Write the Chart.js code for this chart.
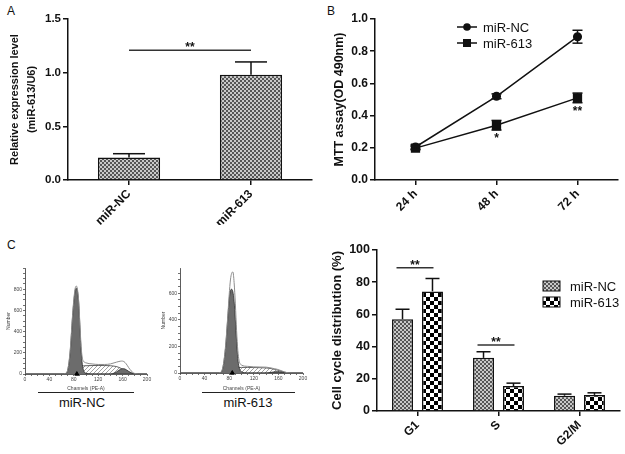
<!DOCTYPE html>
<html>
<head>
<meta charset="utf-8">
<script src="https://cdn.jsdelivr.net/npm/chart.js@4.4.0/dist/chart.umd.min.js"></script>
<style>
  html, body { margin: 0; padding: 0; background: #fff; }
  body { width: 625px; height: 454px; position: relative; overflow: hidden;
         font-family: "Liberation Sans", Arial, Helvetica, sans-serif; color: #111; }
  canvas { position: absolute; }
  .panel { position: absolute; font-size: 12px; }
  .under { position: absolute; border-top: 1.5px solid #222; height: 0; }
  .cap { position: absolute; font-size: 13px; text-align: center; width: 100px; }
</style>
</head>
<body>
<div class="panel" style="left:7px;top:4px">A</div>
<div class="panel" style="left:327px;top:4px">B</div>
<div class="panel" style="left:7px;top:238px">C</div>

<canvas id="chartA" width="314" height="225" style="left:0;top:0"></canvas>
<canvas id="chartB" width="311" height="225" style="left:314px;top:0"></canvas>
<canvas id="histNC" width="155" height="137" style="left:0;top:255px"></canvas>
<canvas id="hist613" width="155" height="137" style="left:155px;top:255px"></canvas>
<canvas id="chartD" width="311" height="229" style="left:314px;top:225px"></canvas>

<div class="under" style="left:38px;top:392px;width:96px"></div>
<div class="cap" style="left:32px;top:395px">miR-NC</div>
<div class="under" style="left:202px;top:392px;width:93px"></div>
<div class="cap" style="left:198px;top:395px">miR-613</div>

<script>
// ---- A: relative expression ----
const groupsA = ['miR-NC', 'miR-613'];
const exprA = [0.21, 0.98];
const exprErrA = [0.035, 0.12];
const sigA = 1.21;

// ---- B: MTT assay ----
const timesB = ['24 h', '48 h', '72 h'];
const mttNC = [0.205, 0.52, 0.89];
const mttNCErr = [0.012, 0.015, 0.04];
const mtt613 = [0.198, 0.34, 0.51];
const mtt613Err = [0.01, 0.03, 0.03];
const starsB = ['', '*', '**'];

// ---- C: flow histograms ----
const channels = [0, 60, 66, 70, 74, 78, 80, 82, 84, 86, 88, 90, 92, 94, 96, 100,
                  110, 120, 130, 140, 146, 150, 154, 158, 162, 166, 170, 174, 178, 182, 190, 200];
const ncTotal = [0, 0, 5, 40, 220, 560, 700, 800, 830, 800, 690, 470, 260, 150, 120, 105,
                 95, 90, 90, 95, 105, 112, 118, 122, 118, 95, 60, 30, 10, 2, 0, 0];
const ncG1 = [0, 0, 4, 35, 200, 540, 680, 780, 810, 780, 670, 440, 220, 90, 35, 6,
              0, 0, 0, 0, 0, 0, 0, 0, 0, 0, 0, 0, 0, 0, 0, 0];
const ncS = [0, 0, 0, 0, 5, 15, 25, 35, 45, 55, 62, 68, 72, 75, 77, 78,
             80, 80, 80, 78, 74, 70, 62, 52, 40, 28, 16, 8, 3, 0, 0, 0];
const ncG2 = [0, 0, 0, 0, 0, 0, 0, 0, 0, 0, 0, 0, 0, 0, 0, 0,
              0, 0, 0, 0, 8, 20, 35, 48, 50, 40, 25, 12, 4, 0, 0, 0];
const m613Total = [0, 0, 5, 50, 200, 450, 590, 700, 750, 760, 680, 520, 320, 170, 95, 60,
                   50, 46, 45, 44, 40, 36, 32, 28, 22, 15, 8, 3, 1, 0, 0, 0];
const m613G1 = [0, 0, 4, 45, 185, 430, 550, 620, 630, 610, 540, 400, 240, 110, 45, 10,
                0, 0, 0, 0, 0, 0, 0, 0, 0, 0, 0, 0, 0, 0, 0, 0];
const m613S = [0, 0, 0, 0, 3, 10, 15, 20, 26, 30, 34, 37, 39, 40, 41, 42,
               42, 41, 40, 38, 35, 31, 27, 22, 17, 11, 6, 2, 0, 0, 0, 0];
const m613G2 = [0, 0, 0, 0, 0, 0, 0, 0, 0, 0, 0, 0, 0, 0, 0, 0,
                0, 0, 0, 0, 3, 6, 9, 10, 9, 6, 3, 1, 0, 0, 0, 0];
const markerCh = [85, 85];

// ---- D: cell cycle ----
const phasesD = ['G1', 'S', 'G2/M'];
const cycleNC = [57, 33, 9.5];
const cycleNCErr = [6.2, 3.8, 1];
const cycle613 = [74.3, 15.5, 10];
const cycle613Err = [8, 1.8, 1.3];
const sigD = [89, 41, null];

const FONT = "'Liberation Sans', Arial, Helvetica, sans-serif";
const INK = '#111';
Chart.defaults.font.family = FONT;
Chart.defaults.color = INK;
Chart.defaults.animation = false;
Chart.defaults.plugins.legend.display = false;
Chart.defaults.plugins.tooltip.enabled = false;

function makePattern(w, h, paint) {
  const c = document.createElement('canvas');
  c.width = w; c.height = h;
  const g = c.getContext('2d');
  paint(g);
  return g.createPattern(c, 'repeat');
}
const fineFill = makePattern(4, 4, g => {
  g.fillStyle = '#c9c9c9'; g.fillRect(0, 0, 4, 4);
  g.fillStyle = '#565656'; g.fillRect(0, 0, 2, 2); g.fillRect(2, 2, 2, 2);
});
const checkFill = makePattern(8, 8, g => {
  g.fillStyle = '#fff'; g.fillRect(0, 0, 8, 8);
  g.fillStyle = '#000'; g.fillRect(0, 0, 4, 4); g.fillRect(4, 4, 4, 4);
});
const hatchFill = makePattern(4, 4, g => {
  g.fillStyle = '#fff'; g.fillRect(0, 0, 4, 4);
  g.strokeStyle = '#8a8a8a'; g.lineWidth = 0.8;
  g.beginPath();
  g.moveTo(0, 4); g.lineTo(4, 0);
  g.moveTo(-1, 1); g.lineTo(1, -1);
  g.moveTo(3, 5); g.lineTo(5, 3);
  g.stroke();
});

function yAxis(min, max, step, width, size, digits) {
  return {
    min, max,
    ticks: { stepSize: step, padding: 2, color: INK, font: { size, weight: 'bold' },
             callback: v => v.toFixed(digits) },
    grid: { drawOnChartArea: false, tickLength: 5, color: INK, lineWidth: 1.5 },
    border: { color: INK, width: 1.5 },
    afterFit: s => { s.width = width; }
  };
}
function xAxis(height, size) {
  return {
    offset: true,
    ticks: { minRotation: 45, maxRotation: 45, padding: 2, color: INK, font: { size, weight: 'bold' } },
    grid: { offset: false, drawOnChartArea: false, tickLength: 5, color: INK, lineWidth: 1.5 },
    border: { color: INK, width: 1.5 },
    afterFit: s => { s.height = height; }
  };
}

function line(ctx, x1, y1, x2, y2) {
  ctx.beginPath(); ctx.moveTo(x1, y1); ctx.lineTo(x2, y2); ctx.stroke();
}

// upper error bars on bars
function barErrors(chart, di, vals, errs, capHalf) {
  const ctx = chart.ctx, y = chart.scales.y;
  const meta = chart.getDatasetMeta(di);
  ctx.save();
  ctx.strokeStyle = INK; ctx.lineWidth = 1.5;
  vals.forEach((v, i) => {
    const x = meta.data[i].x;
    const top = y.getPixelForValue(v + errs[i]);
    line(ctx, x, y.getPixelForValue(v), x, top);
    line(ctx, x - capHalf, top, x + capHalf, top);
  });
  ctx.restore();
}

function sigMark(chart, x1, x2, yPix, text, size) {
  const ctx = chart.ctx;
  ctx.save();
  ctx.strokeStyle = '#333'; ctx.lineWidth = 1.5;
  line(ctx, x1, yPix, x2, yPix);
  ctx.fillStyle = INK;
  ctx.font = 'bold ' + size + 'px ' + FONT;
  ctx.textAlign = 'center'; ctx.textBaseline = 'alphabetic';
  ctx.fillText(text, (x1 + x2) / 2, yPix + 1);
  ctx.restore();
}

// ---- Chart A ----
new Chart(document.getElementById('chartA'), {
  type: 'bar',
  data: {
    labels: groupsA,
    datasets: [{ data: exprA, backgroundColor: fineFill, borderColor: INK, borderWidth: 1.5,
                 categoryPercentage: 1, barPercentage: 0.51 }]
  },
  options: {
    responsive: false,
    layout: { padding: { top: 19, right: 2 } },
    scales: {
      x: xAxis(45, 12),
      y: Object.assign(yAxis(0, 1.5, 0.5, 68, 11.5, 1), {
        title: { display: true, text: ['Relative expression level', '(miR-613/U6)'],
                 font: { size: 11, weight: 'bold', lineHeight: 1.6 }, padding: { top: 6 } }
      })
    }
  },
  plugins: [{
    id: 'extrasA',
    afterDatasetsDraw(chart) {
      barErrors(chart, 0, exprA, exprErrA, 16);
      const meta = chart.getDatasetMeta(0);
      sigMark(chart, meta.data[0].x, meta.data[1].x, chart.scales.y.getPixelForValue(sigA), '**', 12);
    }
  }]
});

// ---- Chart B ----
new Chart(document.getElementById('chartB'), {
  type: 'line',
  data: {
    labels: timesB,
    datasets: [
      { label: 'miR-NC', data: mttNC, borderColor: INK, borderWidth: 1.5, backgroundColor: INK,
        pointStyle: 'circle', pointRadius: 3.8, pointBackgroundColor: INK },
      { label: 'miR-613', data: mtt613, borderColor: INK, borderWidth: 1.5, backgroundColor: INK,
        pointStyle: 'rect', pointRadius: 5.5, pointBackgroundColor: INK }
    ]
  },
  options: {
    responsive: false,
    layout: { padding: { top: 19, right: 7 } },
    scales: {
      x: xAxis(45, 12),
      y: Object.assign(yAxis(0, 1.0, 0.2, 61, 12, 1), {
        title: { display: true, text: 'MTT assay(OD 490nm)', font: { size: 12.5, weight: 'bold' },
                 padding: { top: 18 } }
      })
    }
  },
  plugins: [{
    id: 'extrasB',
    afterDatasetsDraw(chart) {
      const ctx = chart.ctx, y = chart.scales.y;
      ctx.save();
      ctx.strokeStyle = INK; ctx.lineWidth = 1.5;
      [[mttNC, mttNCErr], [mtt613, mtt613Err]].forEach((pair, di) => {
        const meta = chart.getDatasetMeta(di);
        pair[0].forEach((v, i) => {
          const x = meta.data[i].x;
          const top = y.getPixelForValue(v + pair[1][i]);
          const bot = y.getPixelForValue(v - pair[1][i]);
          line(ctx, x, top, x, bot);
          line(ctx, x - 5, top, x + 5, top);
          line(ctx, x - 5, bot, x + 5, bot);
        });
      });
      ctx.fillStyle = INK;
      ctx.font = 'bold 12px ' + FONT;
      ctx.textAlign = 'center'; ctx.textBaseline = 'top';
      const meta613 = chart.getDatasetMeta(1);
      starsB.forEach((s, i) => {
        if (!s) return;
        ctx.fillText(s, meta613.data[i].x, y.getPixelForValue(mtt613[i] - mtt613Err[i]) + 3);
      });
      // legend
      const rows = [['miR-NC', 'circle'], ['miR-613', 'rect']];
      ctx.font = '13px ' + FONT;
      ctx.textAlign = 'left'; ctx.textBaseline = 'middle';
      rows.forEach((r, k) => {
        const ly = 27 + k * 16;
        line(ctx, 143, ly, 163, ly);
        if (r[1] === 'circle') { ctx.beginPath(); ctx.arc(153, ly, 3.8, 0, Math.PI * 2); ctx.fill(); }
        else ctx.fillRect(149, ly - 4, 8, 8);
        ctx.fillText(r[0], 169, ly + 1);
      });
      ctx.restore();
    }
  }]
});

// ---- C: histograms ----
function pts(vals) { return channels.map((c, i) => ({ x: c, y: vals[i] })); }
function histogram(id, total, g1, s, g2, ymax, labelMax, marker, xh, padRight) {
  const tiny = { size: 5 };
  new Chart(document.getElementById(id), {
    type: 'line',
    data: {
      datasets: [
        { data: pts(total), borderColor: '#8c8c8c', borderWidth: 1, fill: false, order: 0 },
        { data: pts(g1), borderColor: '#2b2b2b', borderWidth: 0.8, backgroundColor: '#6c6c6c', fill: 'origin', order: 1 },
        { data: pts(g2), borderColor: '#2b2b2b', borderWidth: 0.8, backgroundColor: '#6c6c6c', fill: 'origin', order: 1 },
        { data: pts(s), borderColor: '#3a3a3a', borderWidth: 0.8, backgroundColor: hatchFill, fill: 'origin', order: 2 },
        { type: 'scatter', data: [{ x: marker, y: 0 }], pointStyle: 'triangle', pointRadius: 2.4,
          backgroundColor: '#000', borderColor: '#000', clip: false, order: -1 }
      ]
    },
    options: {
      responsive: false,
      layout: { padding: { top: 13, right: padRight } },
      elements: { point: { radius: 0 }, line: { cubicInterpolationMode: 'monotone' } },
      scales: {
        x: {
          type: 'linear', min: 0, max: 200,
          ticks: { stepSize: 10, autoSkip: false, maxRotation: 0, padding: 1, font: tiny, color: '#444',
                   callback: v => (v % 40 === 0 ? v : '') },
          grid: { drawOnChartArea: false, tickLength: 2, color: '#333', lineWidth: 0.7 },
          border: { color: '#333', width: 0.8 },
          title: { display: true, text: 'Channels (PE-A)', font: tiny, color: '#444', padding: 0 },
          afterFit: sc => { sc.height = xh; }
        },
        y: {
          min: 0, max: ymax,
          ticks: { stepSize: 50, autoSkip: false, includeBounds: false, padding: 1, font: tiny, color: '#444',
                   callback: v => (v % 200 === 0 && v <= labelMax ? v : '') },
          grid: { drawOnChartArea: false, tickLength: 2, color: '#333', lineWidth: 0.7 },
          border: { color: '#333', width: 0.8 },
          title: { display: true, text: 'Number', font: tiny, color: '#444', padding: { top: 6 } },
          afterFit: sc => { sc.width = 25; }
        }
      }
    }
  });
}
histogram('histNC', ncTotal, ncG1, ncS, ncG2, 1000, 800, markerCh[0], 18, 8);
histogram('hist613', m613Total, m613G1, m613S, m613G2, 790, 600, markerCh[1], 19, 7);

// ---- Chart D ----
new Chart(document.getElementById('chartD'), {
  type: 'bar',
  data: {
    labels: phasesD,
    datasets: [
      { label: 'miR-NC', data: cycleNC, backgroundColor: fineFill, borderColor: INK, borderWidth: 1.5 },
      { label: 'miR-613', data: cycle613, backgroundColor: checkFill, borderColor: INK, borderWidth: 1.5 }
    ]
  },
  options: {
    responsive: false,
    layout: { padding: { top: 25, right: 5 } },
    datasets: { bar: { categoryPercentage: 0.74, barPercentage: 0.7 } },
    scales: {
      x: xAxis(43, 12),
      y: Object.assign(yAxis(0, 100, 20, 63, 12.5, 0), {
        title: { display: true, text: 'Cell cycle distribution (%)', font: { size: 13, weight: 'bold' },
                 padding: { top: 16 } }
      })
    }
  },
  plugins: [{
    id: 'extrasD',
    afterDatasetsDraw(chart) {
      barErrors(chart, 0, cycleNC, cycleNCErr, 7);
      barErrors(chart, 1, cycle613, cycle613Err, 7);
      const m0 = chart.getDatasetMeta(0), m1 = chart.getDatasetMeta(1), y = chart.scales.y;
      sigD.forEach((v, i) => {
        if (v === null) return;
        sigMark(chart, m0.data[i].x - 6, m1.data[i].x + 1, y.getPixelForValue(v), '**', 12);
      });
      const ctx = chart.ctx;
      ctx.save();
      ctx.font = '13px ' + FONT;
      ctx.textAlign = 'left'; ctx.textBaseline = 'middle';
      [[fineFill, 'miR-NC'], [checkFill, 'miR-613']].forEach((r, k) => {
        const ly = 61 + k * 16;
        ctx.fillStyle = r[0];
        ctx.fillRect(229, ly - 5, 17, 10);
        ctx.strokeStyle = INK; ctx.lineWidth = 1;
        ctx.strokeRect(229, ly - 5, 17, 10);
        ctx.fillStyle = INK;
        ctx.fillText(r[1], 256, ly + 1);
      });
      ctx.restore();
    }
  }]
});
</script>
</body>
</html>
